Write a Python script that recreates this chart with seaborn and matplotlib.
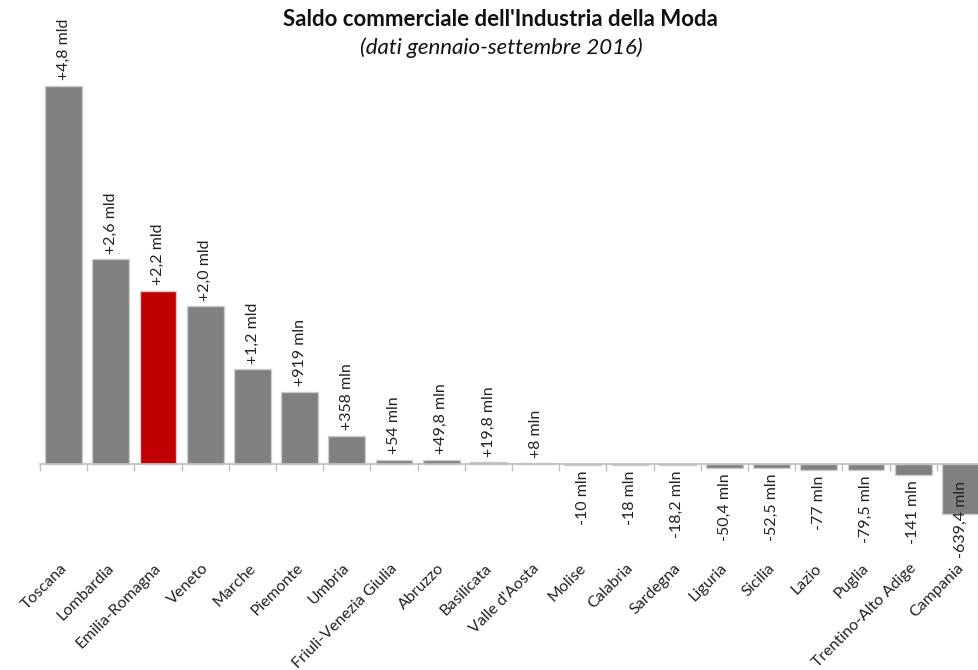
import numpy as np
import matplotlib
matplotlib.use('Agg')
import matplotlib.pyplot as plt
import matplotlib.ticker as mticker
import matplotlib.transforms as mtransforms
import seaborn as sns

regioni = ['Toscana', 'Lombardia', 'Emilia-Romagna', 'Veneto', 'Marche', 'Piemonte',
           'Umbria', 'Friuli-Venezia Giulia', 'Abruzzo', 'Basilicata', "Valle d'Aosta",
           'Molise', 'Calabria', 'Sardegna', 'Liguria', 'Sicilia', 'Lazio', 'Puglia',
           'Trentino-Alto Adige', 'Campania']
saldo_mln = [4800, 2600, 2200, 2000, 1200, 919, 358, 54, 49.8, 19.8, 8,
             -10, -18, -18.2, -50.4, -52.5, -77, -79.5, -141, -639.4]
etichette = ['+4,8 mld', '+2,6 mld', '+2,2 mld', '+2,0 mld', '+1,2 mld', '+919 mln',
             '+358 mln', '+54 mln', '+49,8 mln', '+19,8 mln', '+8 mln',
             '-10 mln', '-18 mln', '-18,2 mln', '-50,4 mln', '-52,5 mln', '-77 mln',
             '-79,5 mln', '-141 mln', '-639,4 mln']
evidenza = 'Emilia-Romagna'

sns.set_theme(style='white')
plt.rcParams['font.family'] = ['Lato', 'DejaVu Sans']

colori = ['#c00000' if r == evidenza else '#808080' for r in regioni]

fig = plt.figure(figsize=(9.79, 6.7), dpi=100)
ax = fig.add_axes([40 / 979, (670 - 545) / 670, 944 / 979, 485 / 670])

sns.barplot(x=regioni, y=saldo_mln, hue=regioni, palette=colori, legend=False,
            width=0.78, edgecolor='#cccccc', linewidth=1, ax=ax, saturation=1)

ax.set_ylim(-1029, 5130)
ax.set_xlim(-0.5, len(regioni) - 0.5)

for i, (v, t) in enumerate(zip(saldo_mln, etichette)):
    if v >= 0:
        ax.annotate(t, (i, v), xytext=(0, 4), textcoords='offset points',
                    rotation=90, ha='center', va='bottom', fontsize=11.5, color='#222222')
    else:
        ax.annotate(t, (i, max(v, -150)), xytext=(0, -4), textcoords='offset points',
                    rotation=90, ha='center', va='top', fontsize=11.5, color='#222222')

for s in ['top', 'right', 'left']:
    ax.spines[s].set_visible(False)
ax.spines['bottom'].set_position(('data', 0))
ax.spines['bottom'].set_color('#bfbfbf')
ax.yaxis.set_visible(False)
ax.set_xlabel('')

ax.xaxis.set_minor_locator(mticker.FixedLocator(np.arange(-0.5, len(regioni), 1)))
ax.tick_params(axis='x', which='major', bottom=True, length=0, pad=70, labelsize=11.5,
               labelcolor='#222222')
ax.tick_params(axis='x', which='minor', bottom=True, length=5, width=1, color='#bfbfbf',
               direction='out')
shift = mtransforms.ScaledTranslation(-4 / 100, 0, fig.dpi_scale_trans)
for lab in ax.get_xticklabels():
    lab.set_rotation(45)
    lab.set_ha('right')
    lab.set_va('top')
    lab.set_rotation_mode('anchor')
    lab.set_transform(lab.get_transform() + shift)

fig.text(500 / 979, 1 - 20 / 670, "Saldo commerciale dell'Industria della Moda",
         ha='center', va='center', fontsize=16, fontweight='bold', color='#111111')
fig.text(501 / 979, 1 - 48 / 670, '(dati gennaio-settembre 2016)',
         ha='center', va='center', fontsize=16, style='italic', color='#111111')

fig.savefig('out.png', dpi=100)
